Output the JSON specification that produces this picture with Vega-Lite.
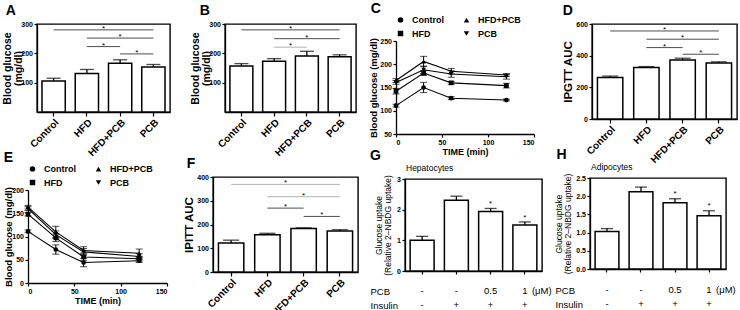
{
"$schema": "https://vega.github.io/schema/vega-lite/v6.json",
"padding": {"left": 2, "top": 2, "right": 0, "bottom": 0},
"config": {
  "font": "Liberation Sans",
  "view": {"stroke": "black", "strokeWidth": 1.4},
  "axis": {"grid": false, "domainColor": "black", "domainWidth": 1.3, "tickColor": "black", "tickWidth": 1.2, "tickSize": 3, "labelColor": "black", "labelFontWeight": "bold", "labelFontSize": 7, "labelPadding": 1.5, "labelOverlap": false, "titleColor": "black", "titleFontWeight": "bold"},
  "title": {"fontSize": 14, "fontWeight": "bold", "anchor": "start", "frame": "bounds", "color": "black"},
  "legend": {"title": null, "orient": "top", "columns": 2, "columnPadding": 16, "rowPadding": 1, "labelFontSize": 9, "labelFontWeight": "bold", "labelColor": "black", "symbolSize": 30, "labelOffset": 7, "padding": 0, "offset": 1}
},
"resolve": {"legend": {"shape": "independent"}, "scale": {"shape": "independent"}},
"datasets": {
  "barsA": [{"g": "Control", "m": 106, "e": 9}, {"g": "HFD", "m": 131, "e": 14}, {"g": "HFD+PCB", "m": 166, "e": 12}, {"g": "PCB", "m": 153, "e": 9}],
  "sigA": [{"a": 0, "b": 3, "m": 280, "shade": "dark"}, {"a": 1, "b": 3, "m": 252, "shade": "dark"}, {"a": 1, "b": 2, "m": 223, "shade": "dark"}, {"a": 2, "b": 3, "m": 198, "shade": "dark"}],
  "barsB": [{"g": "Control", "m": 157, "e": 8}, {"g": "HFD", "m": 173, "e": 9}, {"g": "HFD+PCB", "m": 191, "e": 16}, {"g": "PCB", "m": 188, "e": 7}],
  "sigB": [{"a": 0, "b": 3, "m": 280, "shade": "dark"}, {"a": 1, "b": 3, "m": 250, "shade": "dark"}, {"a": 1, "b": 2, "m": 221, "shade": "light"}],
  "barsD": [{"g": "Control", "m": 262, "e": 9}, {"g": "HFD", "m": 325, "e": 6}, {"g": "HFD+PCB", "m": 373, "e": 11}, {"g": "PCB", "m": 353, "e": 8}],
  "sigD": [{"a": 0, "b": 3, "m": 556, "shade": "dark"}, {"a": 1, "b": 3, "m": 504, "shade": "dark"}, {"a": 1, "b": 2, "m": 451, "shade": "dark"}, {"a": 2, "b": 3, "m": 409, "shade": "dark"}],
  "barsF": [{"g": "Control", "m": 122, "e": 12}, {"g": "HFD", "m": 157, "e": 6}, {"g": "HFD+PCB", "m": 183, "e": 3}, {"g": "PCB", "m": 173, "e": 5}],
  "sigF": [{"a": 0, "b": 3, "m": 369, "shade": "light"}, {"a": 1, "b": 3, "m": 317, "shade": "light"}, {"a": 1, "b": 2, "m": 269, "shade": "dark"}, {"a": 2, "b": 3, "m": 234, "shade": "dark"}],
  "ipgtt": [
    {"g": "Control", "t": 0, "m": 111, "e": 3}, {"g": "Control", "t": 30, "m": 150, "e": 11}, {"g": "Control", "t": 60, "m": 127, "e": 3}, {"g": "Control", "t": 120, "m": 123, "e": 2},
    {"g": "HFD", "t": 0, "m": 142, "e": 6}, {"g": "HFD", "t": 30, "m": 181, "e": 5}, {"g": "HFD", "t": 60, "m": 160, "e": 3}, {"g": "HFD", "t": 120, "m": 154, "e": 5},
    {"g": "HFD+PCB", "t": 0, "m": 165, "e": 4}, {"g": "HFD+PCB", "t": 30, "m": 206, "e": 11}, {"g": "HFD+PCB", "t": 60, "m": 185, "e": 6}, {"g": "HFD+PCB", "t": 120, "m": 177, "e": 3},
    {"g": "PCB", "t": 0, "m": 161, "e": 4}, {"g": "PCB", "t": 30, "m": 188, "e": 8}, {"g": "PCB", "t": 60, "m": 179, "e": 7}, {"g": "PCB", "t": 120, "m": 173, "e": 5}
  ],
  "ipitt": [
    {"g": "Control", "t": 0, "m": 111, "e": 3}, {"g": "Control", "t": 30, "m": 72, "e": 10}, {"g": "Control", "t": 60, "m": 44, "e": 9}, {"g": "Control", "t": 120, "m": 48, "e": 4},
    {"g": "HFD", "t": 0, "m": 148, "e": 4}, {"g": "HFD", "t": 30, "m": 97, "e": 8}, {"g": "HFD", "t": 60, "m": 56, "e": 8}, {"g": "HFD", "t": 120, "m": 52, "e": 5},
    {"g": "HFD+PCB", "t": 0, "m": 163, "e": 4}, {"g": "HFD+PCB", "t": 30, "m": 110, "e": 12}, {"g": "HFD+PCB", "t": 60, "m": 70, "e": 8}, {"g": "HFD+PCB", "t": 120, "m": 64, "e": 9},
    {"g": "PCB", "t": 0, "m": 160, "e": 4}, {"g": "PCB", "t": 30, "m": 104, "e": 8}, {"g": "PCB", "t": 60, "m": 67, "e": 7}, {"g": "PCB", "t": 120, "m": 57, "e": 6}
  ],
  "gluG": [{"c": "g1", "m": 1.0, "e": 0.13}, {"c": "g2", "m": 2.31, "e": 0.13}, {"c": "g3", "m": 1.94, "e": 0.1, "sy": 2.2}, {"c": "g4", "m": 1.5, "e": 0.1, "sy": 1.72}],
  "gluH": [{"c": "g1", "m": 1.03, "e": 0.08}, {"c": "g2", "m": 2.12, "e": 0.13}, {"c": "g3", "m": 1.82, "e": 0.11, "sy": 2.06}, {"c": "g4", "m": 1.46, "e": 0.14, "sy": 1.73}],
  "tab": [
    {"c": "g1", "row": "PCB", "v": "-"}, {"c": "g2", "row": "PCB", "v": "-"}, {"c": "g3", "row": "PCB", "v": "0.5"}, {"c": "g4", "row": "PCB", "v": "1"},
    {"c": "g1", "row": "Insulin", "v": "-"}, {"c": "g2", "row": "Insulin", "v": "+"}, {"c": "g3", "row": "Insulin", "v": "+"}, {"c": "g4", "row": "Insulin", "v": "+"}
  ],
  "unit": [{"c": "g4", "row": "PCB", "v": "(μM)"}],
  "blank": [{"k": 0}]
},
"columns": 1,
"align": "none",
"spacing": -19,
"concat": [
  {"resolve": {"legend": {"shape": "independent"}, "scale": {"shape": "independent"}},
   "spacing": -27,
   "hconcat": [
    {"width": 1, "height": 1, "view": {"stroke": null}, "data": {"name": "blank"}, "mark": {"type": "point", "opacity": 0, "size": 0}, "encoding": {}},
    {"resolve": {"legend": {"shape": "independent"}, "scale": {"shape": "independent"}},
     "spacing": 0,
     "hconcat": [
      {"width": 133, "height": 88,
       "title": {"text": "A", "dx": 3, "offset": 2},
       "layer": [
        {"data": {"name": "barsA"},
         "encoding": {
           "x": {"field": "g", "type": "nominal", "sort": null, "scale": {"paddingInner": 0.3, "paddingOuter": 0.15}, "axis": {"title": null, "labelAngle": -45, "labelFontSize": 10, "tickSize": 4, "labelPadding": 1}},
           "y": {"field": "m", "type": "quantitative", "scale": {"domain": [0, 300], "nice": false}, "axis": {"values": [100, 200, 300], "title": ["Blood glucose", "(mg/dl)"], "titleFontSize": 10.5, "titleLineHeight": 11, "titlePadding": -3}}
         },
         "layer": [
           {"mark": {"type": "errorbar", "color": "black", "thickness": 1.3, "ticks": {"size": 14, "thickness": 1.3}}, "encoding": {"yError": {"field": "e"}}},
           {"mark": {"type": "bar", "fill": "white", "stroke": "black", "strokeWidth": 1.5}}
         ]},
        {"data": {"name": "sigA"},
         "transform": [{"calculate": "(datum.a + datum.b) / 2", "as": "s"}],
         "encoding": {"y": {"field": "m", "type": "quantitative", "scale": {"domain": [0, 300], "nice": false}, "axis": {"values": [100, 200, 300], "title": ["Blood glucose", "(mg/dl)"], "titleFontSize": 10.5, "titleLineHeight": 11, "titlePadding": -3}}},
         "layer": [
           {"mark": {"type": "rule", "strokeWidth": 0.9}, "encoding": {"x": {"field": "a", "type": "quantitative", "scale": {"domain": [-0.5, 3.5], "nice": false, "zero": false}, "axis": null}, "x2": {"field": "b"}, "color": {"field": "shade", "type": "nominal", "scale": {"domain": ["dark", "light"], "range": ["#3a3a3a", "#a8a8a8"]}, "legend": null}}},
           {"mark": {"type": "text", "text": "*", "fontSize": 8, "color": "black", "baseline": "middle", "dy": -1}, "encoding": {"x": {"field": "s", "type": "quantitative", "axis": null}}}
         ]}
       ],
       "resolve": {"scale": {"x": "independent"}}
      },
      {"width": 19, "height": 1, "view": {"stroke": null}, "data": {"name": "blank"}, "mark": {"type": "point", "opacity": 0, "size": 0}, "encoding": {}},
      {"width": 131, "height": 88,
       "title": {"text": "B", "dx": 9, "offset": 2},
       "layer": [
        {"data": {"name": "barsB"},
         "encoding": {
           "x": {"field": "g", "type": "nominal", "sort": null, "scale": {"paddingInner": 0.3, "paddingOuter": 0.15}, "axis": {"title": null, "labelAngle": -45, "labelFontSize": 10, "tickSize": 4, "labelPadding": 1}},
           "y": {"field": "m", "type": "quantitative", "scale": {"domain": [0, 300], "nice": false}, "axis": {"values": [100, 200, 300], "title": ["Blood glucose", "(mg/dl)"], "titleFontSize": 10.5, "titleLineHeight": 11, "titlePadding": -3}}
         },
         "layer": [
           {"mark": {"type": "errorbar", "color": "black", "thickness": 1.3, "ticks": {"size": 14, "thickness": 1.3}}, "encoding": {"yError": {"field": "e"}}},
           {"mark": {"type": "bar", "fill": "white", "stroke": "black", "strokeWidth": 1.5}}
         ]},
        {"data": {"name": "sigB"},
         "transform": [{"calculate": "(datum.a + datum.b) / 2", "as": "s"}],
         "encoding": {"y": {"field": "m", "type": "quantitative", "scale": {"domain": [0, 300], "nice": false}, "axis": {"values": [100, 200, 300], "title": ["Blood glucose", "(mg/dl)"], "titleFontSize": 10.5, "titleLineHeight": 11, "titlePadding": -3}}},
         "layer": [
           {"mark": {"type": "rule", "strokeWidth": 0.9}, "encoding": {"x": {"field": "a", "type": "quantitative", "scale": {"domain": [-0.5, 3.5], "nice": false, "zero": false}, "axis": null}, "x2": {"field": "b"}, "color": {"field": "shade", "type": "nominal", "scale": {"domain": ["dark", "light"], "range": ["#3a3a3a", "#a8a8a8"]}, "legend": null}}},
           {"mark": {"type": "text", "text": "*", "fontSize": 8, "color": "black", "baseline": "middle", "dy": -1}, "encoding": {"x": {"field": "s", "type": "quantitative", "axis": null}}}
         ]}
       ],
       "resolve": {"scale": {"x": "independent"}}
      },
      {"width": 11, "height": 1, "view": {"stroke": null}, "data": {"name": "blank"}, "mark": {"type": "point", "opacity": 0, "size": 0}, "encoding": {}},
      {"resolve": {"legend": {"shape": "independent"}, "scale": {"shape": "independent"}},
       "vconcat": [
        {"width": 1, "height": 1, "view": {"stroke": null}, "data": {"name": "blank"}, "mark": {"type": "point", "opacity": 0, "size": 0}, "encoding": {}},
        {"width": 138, "height": 93,
         "view": {"stroke": null},
         "title": {"text": "C", "dx": 2, "offset": -1},
         "data": {"name": "ipgtt"},
         "encoding": {
           "x": {"field": "t", "type": "quantitative", "scale": {"domain": [0, 150], "nice": false}, "axis": {"values": [0, 50, 100, 150], "title": "TIME (min)", "titleFontSize": 9, "titlePadding": 2}},
           "y": {"field": "m", "type": "quantitative", "scale": {"domain": [50, 250], "nice": false, "zero": false}, "axis": {"values": [50, 100, 150, 200, 250], "title": "Blood glucose (mg/dl)", "titleFontSize": 9.5, "titlePadding": 1}}
         },
         "layer": [
           {"mark": {"type": "errorbar", "color": "black", "thickness": 1, "ticks": {"size": 7, "thickness": 1}}, "encoding": {"yError": {"field": "e"}}},
           {"mark": {"type": "line", "color": "black", "strokeWidth": 1.1}, "encoding": {"detail": {"field": "g"}}},
           {"mark": {"type": "point", "filled": true, "color": "black", "size": 22, "opacity": 1},
            "encoding": {"shape": {"field": "g", "type": "nominal", "scale": {"domain": ["Control", "HFD+PCB", "HFD", "PCB"], "range": ["circle", "triangle-up", "square", "triangle-down"]}, "legend": {}}}}
         ]
        }
       ], "spacing": -23},
      {"width": 27, "height": 1, "view": {"stroke": null}, "data": {"name": "blank"}, "mark": {"type": "point", "opacity": 0, "size": 0}, "encoding": {}},
      {"width": 145, "height": 95,
       "title": {"text": "D", "dx": 0, "offset": 2},
       "layer": [
        {"data": {"name": "barsD"},
         "encoding": {
           "x": {"field": "g", "type": "nominal", "sort": null, "scale": {"paddingInner": 0.3, "paddingOuter": 0.15}, "axis": {"title": null, "labelAngle": -45, "labelFontSize": 10, "tickSize": 4, "labelPadding": 1}},
           "y": {"field": "m", "type": "quantitative", "scale": {"domain": [0, 600], "nice": false}, "axis": {"values": [0, 200, 400, 600], "title": "IPGTT AUC", "titleFontSize": 11.5, "titlePadding": 2}}
         },
         "layer": [
           {"mark": {"type": "errorbar", "color": "black", "thickness": 1.3, "ticks": {"size": 16, "thickness": 1.3}}, "encoding": {"yError": {"field": "e"}}},
           {"mark": {"type": "bar", "fill": "white", "stroke": "black", "strokeWidth": 1.5}}
         ]},
        {"data": {"name": "sigD"},
         "transform": [{"calculate": "(datum.a + datum.b) / 2", "as": "s"}],
         "encoding": {"y": {"field": "m", "type": "quantitative", "scale": {"domain": [0, 600], "nice": false}, "axis": {"values": [0, 200, 400, 600], "title": "IPGTT AUC", "titleFontSize": 11.5, "titlePadding": 2}}},
         "layer": [
           {"mark": {"type": "rule", "strokeWidth": 0.9}, "encoding": {"x": {"field": "a", "type": "quantitative", "scale": {"domain": [-0.5, 3.5], "nice": false, "zero": false}, "axis": null}, "x2": {"field": "b"}, "color": {"field": "shade", "type": "nominal", "scale": {"domain": ["dark", "light"], "range": ["#3a3a3a", "#a8a8a8"]}, "legend": null}}},
           {"mark": {"type": "text", "text": "*", "fontSize": 8, "color": "black", "baseline": "middle", "dy": -1}, "encoding": {"x": {"field": "s", "type": "quantitative", "axis": null}}}
         ]}
       ],
       "resolve": {"scale": {"x": "independent"}}
      }
     ]}
   ]},
  {"resolve": {"legend": {"shape": "independent"}, "scale": {"shape": "independent"}},
   "hconcat": [
    {"resolve": {"legend": {"shape": "independent"}, "scale": {"shape": "independent"}},
     "vconcat": [
      {"width": 1, "height": 1, "view": {"stroke": null}, "data": {"name": "blank"}, "mark": {"type": "point", "opacity": 0, "size": 0}, "encoding": {}},
      {"width": 139, "height": 93,
       "view": {"stroke": null},
       "title": {"text": "E", "dx": 0, "offset": -1},
       "data": {"name": "ipitt"},
       "encoding": {
         "x": {"field": "t", "type": "quantitative", "scale": {"domain": [0, 150], "nice": false}, "axis": {"values": [0, 50, 100, 150], "title": "TIME (min)", "titleFontSize": 9, "titlePadding": 2}},
         "y": {"field": "m", "type": "quantitative", "scale": {"domain": [0, 200], "nice": false}, "axis": {"values": [0, 50, 100, 150, 200], "title": "Blood glucose (mg/dl)", "titleFontSize": 9.5, "titlePadding": -2}}
       },
       "layer": [
         {"mark": {"type": "errorbar", "color": "black", "thickness": 1, "ticks": {"size": 7, "thickness": 1}}, "encoding": {"yError": {"field": "e"}}},
         {"mark": {"type": "line", "color": "black", "strokeWidth": 1.1}, "encoding": {"detail": {"field": "g"}}},
         {"mark": {"type": "point", "filled": true, "color": "black", "size": 22, "opacity": 1},
          "encoding": {"shape": {"field": "g", "type": "nominal", "scale": {"domain": ["Control", "HFD+PCB", "HFD", "PCB"], "range": ["circle", "triangle-up", "square", "triangle-down"]}, "legend": {}}}}
       ]
      }
     ], "spacing": -27},
    {"width": 15, "height": 1, "view": {"stroke": null}, "data": {"name": "blank"}, "mark": {"type": "point", "opacity": 0, "size": 0}, "encoding": {}},
    {"width": 145, "height": 95,
     "title": {"text": "F", "dx": 3, "offset": 2},
     "layer": [
      {"data": {"name": "barsF"},
       "encoding": {
         "x": {"field": "g", "type": "nominal", "sort": null, "scale": {"paddingInner": 0.3, "paddingOuter": 0.15}, "axis": {"title": null, "labelAngle": -45, "labelFontSize": 10, "tickSize": 4, "labelPadding": 1}},
         "y": {"field": "m", "type": "quantitative", "scale": {"domain": [0, 400], "nice": false}, "axis": {"values": [0, 100, 200, 300, 400], "title": "IPITT AUC", "titleFontSize": 11.5, "titlePadding": 2}}
       },
       "layer": [
         {"mark": {"type": "errorbar", "color": "black", "thickness": 1.3, "ticks": {"size": 16, "thickness": 1.3}}, "encoding": {"yError": {"field": "e"}}},
         {"mark": {"type": "bar", "fill": "white", "stroke": "black", "strokeWidth": 1.5}}
       ]},
      {"data": {"name": "sigF"},
       "transform": [{"calculate": "(datum.a + datum.b) / 2", "as": "s"}],
       "encoding": {"y": {"field": "m", "type": "quantitative", "scale": {"domain": [0, 400], "nice": false}, "axis": {"values": [0, 100, 200, 300, 400], "title": "IPITT AUC", "titleFontSize": 11.5, "titlePadding": 2}}},
       "layer": [
         {"mark": {"type": "rule", "strokeWidth": 0.9}, "encoding": {"x": {"field": "a", "type": "quantitative", "scale": {"domain": [-0.5, 3.5], "nice": false, "zero": false}, "axis": null}, "x2": {"field": "b"}, "color": {"field": "shade", "type": "nominal", "scale": {"domain": ["dark", "light"], "range": ["#3a3a3a", "#a8a8a8"]}, "legend": null}}},
         {"mark": {"type": "text", "text": "*", "fontSize": 8, "color": "black", "baseline": "middle", "dy": -1}, "encoding": {"x": {"field": "s", "type": "quantitative", "axis": null}}}
       ]}
     ],
     "resolve": {"scale": {"x": "independent"}}
    },
    {"width": 11, "height": 1, "view": {"stroke": null}, "data": {"name": "blank"}, "mark": {"type": "point", "opacity": 0, "size": 0}, "encoding": {}},
    {"title": {"text": "G", "dx": 0, "offset": 0},
     "vconcat": [
      {"width": 1, "height": 1, "view": {"stroke": null}, "data": {"name": "blank"}, "mark": {"type": "point", "opacity": 0, "size": 0}, "encoding": {}},
      {"vconcat": [
        {"width": 137, "height": 92,
         "title": {"text": "Hepatocytes", "fontSize": 8.5, "fontWeight": "normal", "frame": "group", "offset": 2, "dx": 1},
         "data": {"name": "gluG"},
         "encoding": {
           "x": {"field": "c", "type": "nominal", "sort": null, "scale": {"paddingInner": 0.3, "paddingOuter": 0.15}, "axis": {"labels": false, "title": null, "tickSize": 3}},
           "y": {"field": "m", "type": "quantitative", "scale": {"domain": [0, 3], "nice": false}, "axis": {"values": [0, 1, 2, 3], "title": ["Glucose uptake", "(Relative 2–NBDG uptake)"], "titleFontWeight": "normal", "titleFontSize": 8.5, "titleLineHeight": 9.5, "titlePadding": 4}}
         },
         "layer": [
           {"mark": {"type": "errorbar", "color": "black", "thickness": 1.3, "ticks": {"size": 12, "thickness": 1.3}}, "encoding": {"yError": {"field": "e"}}},
           {"mark": {"type": "bar", "fill": "white", "stroke": "black", "strokeWidth": 1.5}},
           {"mark": {"type": "text", "text": "*", "fontSize": 8, "color": "black", "baseline": "middle"}, "encoding": {"y": {"field": "sy", "type": "quantitative"}}}
         ]
        },
        {"width": 137, "height": 28,
         "view": {"stroke": null},
         "encoding": {
           "x": {"field": "c", "type": "nominal", "sort": null, "axis": null},
           "y": {"field": "row", "type": "nominal", "sort": ["PCB", "Insulin"], "axis": {"title": null, "domain": false, "ticks": false, "labelAlign": "left", "labelPadding": 35, "labelFontSize": 9.5, "labelFontWeight": "normal"}}
         },
         "layer": [
           {"data": {"name": "tab"}, "mark": {"type": "text", "fontSize": 9.5, "color": "black"}, "encoding": {"text": {"field": "v"}}},
           {"data": {"name": "unit"}, "mark": {"type": "text", "fontSize": 9.5, "color": "black", "align": "left", "dx": 7}, "encoding": {"text": {"field": "v"}}}
         ]
        }
       ], "spacing": 7}
     ], "spacing": -15},
    {"width": 1, "height": 1, "view": {"stroke": null}, "data": {"name": "blank"}, "mark": {"type": "point", "opacity": 0, "size": 0}, "encoding": {}},
    {"title": {"text": "H", "dx": 3, "offset": 0},
     "vconcat": [
      {"width": 1, "height": 1, "view": {"stroke": null}, "data": {"name": "blank"}, "mark": {"type": "point", "opacity": 0, "size": 0}, "encoding": {}},
      {"vconcat": [
        {"width": 136, "height": 91,
         "title": {"text": "Adipocytes", "fontSize": 8.5, "fontWeight": "normal", "frame": "group", "offset": 2, "dx": 1},
         "data": {"name": "gluH"},
         "encoding": {
           "x": {"field": "c", "type": "nominal", "sort": null, "scale": {"paddingInner": 0.3, "paddingOuter": 0.15}, "axis": {"labels": false, "title": null, "tickSize": 3}},
           "y": {"field": "m", "type": "quantitative", "scale": {"domain": [0, 2.5], "nice": false}, "axis": {"values": [0, 0.5, 1, 1.5, 2, 2.5], "format": ".1f", "title": ["Glucose uptake", "(Relative 2–NBDG uptake)"], "titleFontWeight": "normal", "titleFontSize": 8.5, "titleLineHeight": 9.5, "titlePadding": 3}}
         },
         "layer": [
           {"mark": {"type": "errorbar", "color": "black", "thickness": 1.3, "ticks": {"size": 12, "thickness": 1.3}}, "encoding": {"yError": {"field": "e"}}},
           {"mark": {"type": "bar", "fill": "white", "stroke": "black", "strokeWidth": 1.5}},
           {"mark": {"type": "text", "text": "*", "fontSize": 8, "color": "black", "baseline": "middle"}, "encoding": {"y": {"field": "sy", "type": "quantitative"}}}
         ]
        },
        {"width": 136, "height": 28,
         "view": {"stroke": null},
         "encoding": {
           "x": {"field": "c", "type": "nominal", "sort": null, "axis": null},
           "y": {"field": "row", "type": "nominal", "sort": ["PCB", "Insulin"], "axis": {"title": null, "domain": false, "ticks": false, "labelAlign": "left", "labelPadding": 35, "labelFontSize": 9.5, "labelFontWeight": "normal"}}
         },
         "layer": [
           {"data": {"name": "tab"}, "mark": {"type": "text", "fontSize": 9.5, "color": "black"}, "encoding": {"text": {"field": "v"}}},
           {"data": {"name": "unit"}, "mark": {"type": "text", "fontSize": 9.5, "color": "black", "align": "left", "dx": 7}, "encoding": {"text": {"field": "v"}}}
         ]
        }
       ], "spacing": 8}
     ], "spacing": -17}
  ], "spacing": 0}
]
}
